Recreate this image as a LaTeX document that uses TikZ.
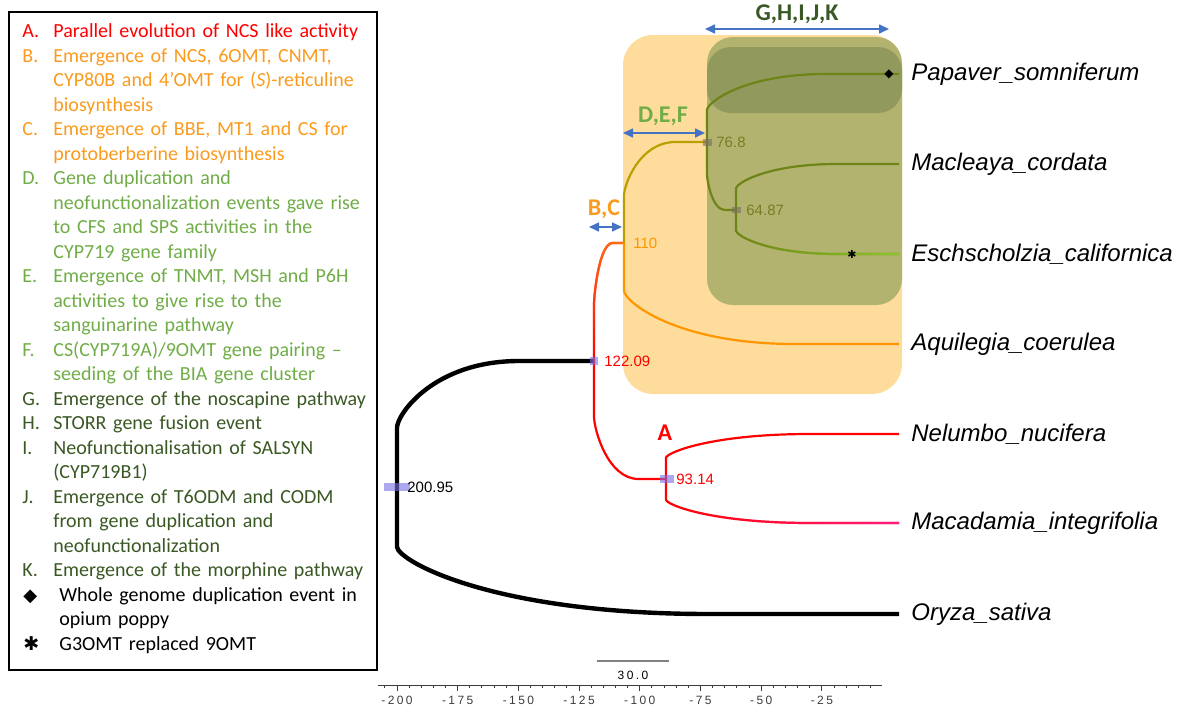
\documentclass[tikz,border=0pt]{standalone}
\usepackage{fontspec}
\setmainfont{Carlito}
\newfontfamily\treefont{Liberation Sans}
\newfontfamily\axisfont{Liberation Sans}[LetterSpace=20]
\newfontfamily\symfont{DejaVu Sans}
\usepackage{tikz}
\usetikzlibrary{calc,arrows.meta,positioning,fadings}
\definecolor{evRed}{RGB}{255,0,0}
\definecolor{evOrange}{RGB}{250,155,30}
\definecolor{evGreen}{RGB}{112,173,71}
\definecolor{evDark}{RGB}{58,88,35}
\definecolor{arrBlue}{RGB}{68,114,196}
\definecolor{boxOrange}{RGB}{254,220,156}
\definecolor{boxOlive}{RGB}{179,179,112}
\definecolor{boxDark}{RGB}{146,153,92}
\definecolor{brRedOr}{RGB}{255,110,20}
\definecolor{brGold}{RGB}{185,160,0}
\definecolor{brOrange}{RGB}{255,150,0}
\definecolor{brOlive}{RGB}{110,132,22}
\definecolor{brLeaf}{RGB}{140,200,40}
\definecolor{brPink}{RGB}{255,30,130}
\definecolor{hpdBlue}{RGB}{120,110,230}
\definecolor{hpdGray}{RGB}{120,110,100}
\definecolor{lbOlive}{RGB}{120,125,35}
\definecolor{axGray}{RGB}{60,60,60}
\tikzfading[name=tipfade,left color=transparent!100,middle color=transparent!100,right color=transparent!0]
\tikzfading[name=upfade,top color=transparent!0,bottom color=transparent!100]

\begin{document}
\begin{tikzpicture}[x=0.5pt,y=-0.5pt,
    legtxt/.style={anchor=north west,inner sep=0pt,text width=170pt,align=left,font=\fontsize{10}{12.25}\selectfont},
    leglab/.style={anchor=north west,inner sep=0pt,font=\fontsize{10}{12.25}\selectfont},
    taxon/.style={anchor=west,inner sep=0pt,font=\treefont\itshape\fontsize{12}{14}\selectfont},
    nodelab/.style={anchor=west,inner sep=0pt,font=\treefont\fontsize{7.5}{9}\selectfont},
    evlab/.style={inner sep=0pt,font=\bfseries\fontsize{12}{14}\selectfont},
    span/.style={arrBlue,line width=0.8pt,{Triangle[length=5pt,width=4.5pt]}-{Triangle[length=5pt,width=4.5pt]}},
    branch/.style={to path={let \p1=(\tikztostart), \p2=(\tikztotarget) in
        -- (\x1,{\y2+0.53*(\y1-\y2)})
        .. controls (\x1,{\y2+0.424*(\y1-\y2)}) and ({\x1+0.186*(\x2-\x1)},\y2)
        .. ({\x1+0.62*(\x2-\x1)},\y2) -- (\tikztotarget)}},
    hpd/.style={fill=hpdBlue,fill opacity=0.6},
    hpdg/.style={fill=hpdGray,fill opacity=0.6},
    axlab/.style={inner sep=0pt,font=\axisfont\fontsize{6}{7}\selectfont}]
    \useasboundingbox (0,0) rectangle (1180,712);

    \draw[line width=0.75pt] (9,12) rectangle (377,670);
    \foreach \k/\lab/\col/\txt [count=\n] in {
        0/A./evRed/{Parallel evolution of NCS like activity},
        1/B./evOrange/{Emergence of NCS, 6OMT, CNMT,\\CYP80B and 4’OMT for (\textit{S})-reticuline\\biosynthesis},
        4/C./evOrange/{Emergence of BBE, MT1 and CS for\\protoberberine biosynthesis},
        6/D./evGreen/{Gene duplication and\\neofunctionalization events gave rise\\to CFS and SPS activities in the\\CYP719 gene family},
        10/E./evGreen/{Emergence of TNMT, MSH and P6H\\activities to give rise to the\\sanguinarine pathway},
        13/F./evGreen/{CS(CYP719A)/9OMT gene pairing –\\seeding of the BIA gene cluster},
        15/G./evDark/{Emergence of the noscapine pathway},
        16/H./evDark/{STORR gene fusion event},
        17/I./evDark/{Neofunctionalisation of SALSYN\\(CYP719B1)},
        19/J./evDark/{Emergence of T6ODM and CODM\\from gene duplication and\\neofunctionalization},
        22/K./evDark/{Emergence of the morphine pathway}}{
        \node[leglab,text=\col] (lab\n) at (22,{20.15+24.5*\k}) {\strut\lab};
        \node[legtxt,text=\col] (leg\n) at (53,{20.15+24.5*\k}) {\strut\txt};
    }
    \node[leglab,font=\symfont\fontsize{9}{12.25}\selectfont] (labW) at (23,{20.15+24.5*23}) {\strut ◆};
    \node[legtxt] (legW) at (59,{20.15+24.5*23}) {\strut Whole genome duplication event in\\opium poppy};
    \node[leglab,font=\symfont\fontsize{9.5}{12.25}\selectfont] (labG) at (23,{20.15+24.5*25}) {\strut ✱};
    \node[legtxt] (legG) at (59,{20.15+24.5*25}) {\strut G3OMT replaced 9OMT};

    \fill[boxOrange,rounded corners=15pt] (623,35) rectangle (902,394);
    \fill[boxOlive,rounded corners=13pt] (707,37) rectangle (902,305);
    \fill[boxDark,rounded corners=12pt] (707,47) rectangle (902,113);

    \coordinate (root) at (397,487);
    \coordinate (n122) at (594,361);
    \coordinate (n110) at (624,243);
    \coordinate (n768) at (707,142);
    \coordinate (n6487) at (736,210);
    \coordinate (n9314) at (666,479);
    \coordinate (pap) at (899,74);
    \coordinate (mac) at (899,164);
    \coordinate (esc) at (899,254);
    \coordinate (aqu) at (899,344);
    \coordinate (nel) at (899,434);
    \coordinate (mcd) at (899,523);
    \coordinate (ory) at (899,614);

    \draw[black,line width=2.2pt] (root) to[branch] (n122);
    \draw[black,line width=2.2pt] (root) to[branch] (ory);
    \draw[evRed,line width=1.1pt] (n122) to[branch] (n110);
    \draw[brRedOr,line width=1.1pt,path fading=upfade] (n122) to[branch] (n110);
    \draw[evRed,line width=1.1pt] (n122) to[branch] (n9314);
    \draw[evRed,line width=1.1pt] (n9314) to[branch] (nel);
    \draw[evRed,line width=1.1pt] (n9314) to[branch] (mcd);
    \draw[brPink,line width=1.1pt,path fading=tipfade] (n9314) to[branch] (mcd);
    \draw[brGold,line width=1.1pt] (n110) to[branch] (n768);
    \draw[brOrange,line width=1.1pt] (n110) to[branch] (aqu);
    \draw[brOlive,line width=1.1pt] (n768) to[branch] (pap);
    \draw[brOlive,line width=1.1pt] (n768) to[branch] (n6487);
    \draw[brOlive,line width=1.1pt] (n6487) to[branch] (mac);
    \draw[brOlive,line width=1.1pt] (n6487) to[branch] (esc);
    \draw[brLeaf,line width=1.1pt,path fading=tipfade] (n6487) to[branch] (esc);

    \fill[hpd] (384,483) rectangle (410,491);
    \fill[hpd] (590,357) rectangle (598,365);
    \fill[hpd] (660,475) rectangle (674,483);
    \fill[hpdg] (703,139) rectangle (712,146);
    \fill[hpdg] (732,207) rectangle (741,213);

    \node[nodelab,right=5pt of root] (l200) {200.95};
    \node[nodelab,text=evRed,right=5pt of n122] (l122) {122.09};
    \node[nodelab,text=brOrange,right=4.5pt of n110] (l110) {110};
    \node[nodelab,text=lbOlive,right=4.5pt of n768] (l768) {76.8};
    \node[nodelab,text=lbOlive,right=5pt of n6487] (l6487) {64.87};
    \node[nodelab,text=evRed,right=5pt of n9314] (l9314) {93.14};

    \node[inner sep=0pt,font=\symfont\fontsize{6}{7}\selectfont] (wgd) at (889,74) {◆};
    \node[inner sep=0pt,font=\symfont\fontsize{5.5}{7}\selectfont] (g3) at (852,254) {✱};

    \node[taxon,right=6pt of pap] (tpap) {Papaver\_somniferum};
    \node[taxon,right=6pt of mac] (tmac) {Macleaya\_cordata};
    \node[taxon,right=6pt of esc] (tesc) {Eschscholzia\_californica};
    \node[taxon,right=6pt of aqu] (taqu) {Aquilegia\_coerulea};
    \node[taxon,right=6pt of nel] (tnel) {Nelumbo\_nucifera};
    \node[taxon,right=6pt of mcd] (tmcd) {Macadamia\_integrifolia};
    \node[taxon,right=6pt of ory] (tory) {Oryza\_sativa};

    \coordinate (ghk1) at (705,29);
    \coordinate (ghk2) at (889,29);
    \coordinate (def1) at (623,133);
    \coordinate (def2) at (705,133);
    \coordinate (bc1) at (589,227);
    \coordinate (bc2) at (622,227);
    \draw[span] (ghk1) -- (ghk2);
    \draw[span] (def1) -- (def2);
    \draw[span] (bc1) -- (bc2);
    \node[evlab,text=evDark] (lghk) at (797,14) {G,H,I,J,K};
    \node[evlab,text=evGreen] (ldef) at (663,116) {D,E,F};
    \node[evlab,text=evOrange] (lbc) at (604,209) {B,C};
    \node[evlab,text=evRed] (la) at (665,433) {A};

    \coordinate (sb1) at (597,661);
    \coordinate (sb2) at (669,661);
    \draw[gray,line width=0.6pt] (sb1) -- (sb2);
    \node[axlab] (lsb) at (633,675) {30.0};

    \coordinate (ax1) at (378,685);
    \coordinate (ax2) at (882,685);
    \draw[axGray,line width=0.5pt] (ax1) -- (ax2);
    \foreach \v in {-205,-200,...,-5}
        \draw[axGray,line width=0.5pt] ({397+(\v+200)*2.428},685) -- ++(0,3);
    \foreach \v [count=\n] in {-200,-175,...,-25}
        \draw[axGray,line width=0.5pt] ({397+(\v+200)*2.428},685) -- ++(0,6)
            node[axlab,below=2.5pt] (tk\n) {\v};
\end{tikzpicture}
\end{document}
